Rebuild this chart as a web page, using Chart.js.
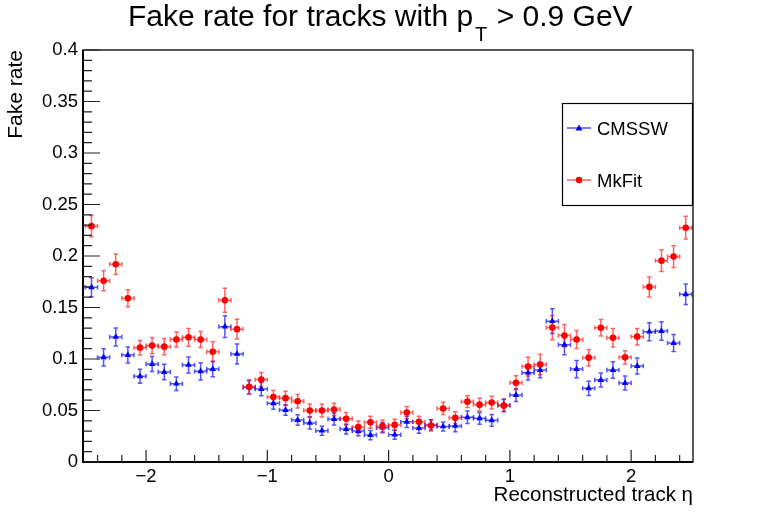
<!DOCTYPE html>
<html><head><meta charset="utf-8">
<script src="https://cdn.jsdelivr.net/npm/chart.js@4.4.1/dist/chart.umd.min.js"></script>
<style>html,body{margin:0;padding:0;background:#fff}#wrap{width:772px;height:515px;position:relative}</style>
</head><body><div id="wrap"><canvas id="c"></canvas></div>
<script>
// ---------- data ----------
const etaBins = [-2.45,-2.35,-2.25,-2.15,-2.05,-1.95,-1.85,-1.75,-1.65,-1.55,-1.45,-1.35,-1.25,-1.15,-1.05,
  -0.95,-0.85,-0.75,-0.65,-0.55,-0.45,-0.35,-0.25,-0.15,-0.05,0.05,0.15,0.25,0.35,0.45,0.55,0.65,0.75,0.85,0.95,
  1.05,1.15,1.25,1.35,1.45,1.55,1.65,1.75,1.85,1.95,2.05,2.15,2.25,2.35,2.45];
const binHalfWidth = 0.05;
const mkfitRate = [0.229,0.176,0.192,0.159,0.111,0.113,0.112,0.119,0.121,0.119,0.107,0.157,0.129,0.073,0.080,
  0.063,0.062,0.059,0.050,0.050,0.051,0.042,0.034,0.0385,0.035,0.036,0.048,0.039,0.0355,0.052,0.043,0.0586,0.0557,0.0578,0.0547,
  0.077,0.0926,0.0946,0.1305,0.1227,0.119,0.1013,0.1304,0.1207,0.1016,0.1217,0.170,0.1955,0.1994,0.2275];
const mkfitErr = [0.0102,0.0097,0.0100,0.0083,0.0070,0.0078,0.0078,0.0073,0.0087,0.0078,0.0097,0.0117,0.0097,0.0068,0.0068,
  0.0063,0.0068,0.0065,0.0063,0.0063,0.0060,0.0060,0.0058,0.0058,0.0057,0.0055,0.0060,0.0055,0.0055,0.0060,0.0057,0.0058,0.0062,0.0060,0.0060,
  0.0068,0.0090,0.0100,0.0117,0.0107,0.0087,0.0080,0.0080,0.0090,0.0065,0.0080,0.0097,0.0105,0.0105,0.0110];
const cmsswRate = [0.1696,0.1016,0.1214,0.1039,0.0832,0.0951,0.0874,0.076,0.0942,0.088,0.0903,0.1314,0.1049,0.0724,0.0708,
  0.057,0.0505,0.0408,0.0379,0.0304,0.0417,0.032,0.0301,0.0262,0.0333,0.0265,0.039,0.0329,0.036,0.0345,0.035,0.0434,0.0424,0.0405,0.0552,
  0.065,0.0867,0.0893,0.1367,0.1138,0.0902,0.0715,0.0796,0.0893,0.0767,0.0932,0.1265,0.1272,0.1155,0.1628];
const cmsswErr = [0.0092,0.0083,0.0087,0.0078,0.0068,0.0073,0.0076,0.0065,0.0078,0.0084,0.0076,0.0105,0.0097,0.0065,0.0065,
  0.0057,0.0050,0.0050,0.0058,0.0044,0.0057,0.0047,0.0045,0.0045,0.0050,0.0045,0.0055,0.0049,0.0050,0.0044,0.0057,0.0060,0.0057,0.0057,0.0060,
  0.0062,0.0071,0.0076,0.0120,0.0097,0.0083,0.0070,0.0068,0.0080,0.0068,0.0078,0.0087,0.0090,0.0083,0.0100];
const xTickValues = [-2,-1,0,1,2];
const xTickLabels = ['\u22122','\u22121','0','1','2'];
const yTickValues = [0,0.05,0.1,0.15,0.2,0.25,0.3,0.35,0.4];
const yTickLabels = ['0','0.05','0.1','0.15','0.2','0.25','0.3','0.35','0.4'];
const seriesNames = ['CMSSW','MkFit'];
const titleParts = ['Fake rate for tracks with p','T',' > 0.9 GeV'];
const xTitle = 'Reconstructed track \u03B7';
const yTitle = 'Fake rate';

// ---------- style ----------
const FONT = '"Liberation Sans", Arial, Helvetica, sans-serif';
const RED = '#ff0000', BLUE = '#0000ff';
const RED_BAR = 'rgba(255,0,0,0.62)', BLUE_BAR = 'rgba(0,0,255,0.68)';

const pts = (vals) => etaBins.map((e,i)=>({x:e, y:vals[i]}));

const errorBars = {
  id:'errorBars',
  beforeDatasetsDraw(chart){
    const {ctx, scales:{x,y}} = chart;
    ctx.save();
    const ca = chart.chartArea;
    ctx.beginPath(); ctx.rect(ca.left, ca.top, ca.right-ca.left, ca.bottom-ca.top); ctx.clip();
    [1,0].forEach(di=>{
      const ds = chart.data.datasets[di];
      ctx.strokeStyle = ds.barColor; ctx.lineWidth = 1.5;
      ds.data.forEach((p,i)=>{
        const px = x.getPixelForValue(p.x), py = y.getPixelForValue(p.y);
        const x0 = x.getPixelForValue(p.x-binHalfWidth), x1 = x.getPixelForValue(p.x+binHalfWidth);
        const y0 = y.getPixelForValue(p.y-ds.err[i]), y1 = y.getPixelForValue(p.y+ds.err[i]);
        const c = 2.2;
        ctx.beginPath();
        ctx.moveTo(x0,py); ctx.lineTo(x1,py);
        ctx.moveTo(x0,py-c); ctx.lineTo(x0,py+c);
        ctx.moveTo(x1,py-c); ctx.lineTo(x1,py+c);
        ctx.moveTo(px,y0); ctx.lineTo(px,y1);
        ctx.moveTo(px-c,y0); ctx.lineTo(px+c,y0);
        ctx.moveTo(px-c,y1); ctx.lineTo(px+c,y1);
        ctx.stroke();
      });
    });
    ctx.restore();
  }
};

const decorations = {
  id:'decorations',
  afterDraw(chart){
    const {ctx, scales:{x,y}} = chart;
    const ca = chart.chartArea;
    ctx.save();
    // frame
    ctx.strokeStyle = '#000'; ctx.lineWidth = 1.3;
    ctx.strokeRect(ca.left, ca.top, ca.right-ca.left, ca.bottom-ca.top);
    ctx.lineWidth = 2;
    ctx.beginPath(); ctx.moveTo(ca.left, ca.top); ctx.lineTo(ca.left, ca.bottom); ctx.lineTo(ca.right, ca.bottom); ctx.stroke();
    // ticks
    ctx.strokeStyle = '#222'; ctx.lineWidth = 1.2;
    ctx.beginPath();
    for (let k=0;k<yTickValues.length;k++){
      const v = yTickValues[k], py = y.getPixelForValue(v);
      ctx.moveTo(ca.left, py); ctx.lineTo(ca.left+17, py);
      if (k<yTickValues.length-1){
        const step = (yTickValues[k+1]-v)/5;
        for (let m=1;m<5;m++){ const pm = y.getPixelForValue(v+m*step); ctx.moveTo(ca.left, pm); ctx.lineTo(ca.left+9, pm); }
      }
    }
    const xs = (xTickValues[1]-xTickValues[0])/5;
    for (let k=0;k<xTickValues.length;k++){
      const v = xTickValues[k], px = x.getPixelForValue(v);
      ctx.moveTo(px, ca.bottom); ctx.lineTo(px, ca.bottom-12);
    }
    for (let v=xTickValues[0]-xs*5; v<=xTickValues[xTickValues.length-1]+xs*5+1e-9; v+=xs){
      const r = Math.round(v/xs);
      if (r%5===0) continue;
      if (v<x.min || v>x.max) continue;
      const px = x.getPixelForValue(v);
      ctx.moveTo(px, ca.bottom); ctx.lineTo(px, ca.bottom-7);
    }
    ctx.stroke();

    // title
    ctx.fillStyle = '#000'; ctx.textBaseline = 'alphabetic'; ctx.textAlign = 'left';
    ctx.font = '30px '+FONT;
    let tx = 128;
    ctx.fillText(titleParts[0], tx, 26);
    tx += ctx.measureText(titleParts[0]).width + 2;
    ctx.font = '20px '+FONT;
    ctx.fillText(titleParts[1], tx, 41);
    tx += ctx.measureText(titleParts[1]).width + 1;
    ctx.font = '30px '+FONT;
    ctx.fillText(titleParts[2], tx, 26);

    // axis titles
    ctx.font = '20.5px '+FONT;
    ctx.textAlign = 'right';
    ctx.fillText(xTitle, ca.right, 501);
    ctx.save();
    ctx.translate(22, ca.top);
    ctx.rotate(-Math.PI/2);
    ctx.textAlign = 'right';
    ctx.font = '21px '+FONT;
    ctx.fillText(yTitle, 0, 0);
    ctx.restore();

    // legend
    const L = {l:562, t:103, r:ca.right, b:206};
    ctx.fillStyle = '#fff';
    ctx.fillRect(L.l, L.t, L.r-L.l, L.b-L.t);
    ctx.strokeStyle = '#000'; ctx.lineWidth = 1.2;
    ctx.strokeRect(L.l+0.5, L.t+0.5, L.r-L.l-1, L.b-L.t-1);
    const entries = [
      {name:seriesNames[0], y:128, line:BLUE_BAR, col:BLUE, shape:'tri'},
      {name:seriesNames[1], y:180, line:RED_BAR, col:RED, shape:'circ'}];
    entries.forEach(e=>{
      ctx.strokeStyle = e.line; ctx.lineWidth = 1.5;
      ctx.beginPath(); ctx.moveTo(567, e.y); ctx.lineTo(591, e.y); ctx.stroke();
      ctx.fillStyle = e.col;
      ctx.beginPath();
      if (e.shape==='tri'){ ctx.moveTo(579, e.y-3.5); ctx.lineTo(582.5, e.y+2.5); ctx.lineTo(575.5, e.y+2.5); ctx.closePath(); }
      else { ctx.arc(579, e.y, 3.2, 0, Math.PI*2); }
      ctx.fill();
      ctx.fillStyle = '#000'; ctx.textAlign='left'; ctx.textBaseline='alphabetic';
      ctx.font = '18.5px '+FONT;
      ctx.fillText(e.name, 597, e.y+7);
    });
    ctx.restore();
  }
};

new Chart(document.getElementById('c'), {
  type:'scatter',
  data:{ datasets:[
    {label:seriesNames[1], data:pts(mkfitRate), err:mkfitErr, barColor:RED_BAR,
     pointStyle:'circle', pointRadius:3.3, pointBackgroundColor:RED, pointBorderColor:RED, pointBorderWidth:0, showLine:false},
    {label:seriesNames[0], data:pts(cmsswRate), err:cmsswErr, barColor:BLUE_BAR,
     pointStyle:'triangle', pointRadius:3.8, pointBackgroundColor:BLUE, pointBorderColor:BLUE, pointBorderWidth:0, showLine:false}
  ]},
  options:{
    responsive:true, maintainAspectRatio:false, animation:false,
    layout:{padding:{left:0, top:50, right:79, bottom:0}},
    plugins:{legend:{display:false}, tooltip:{enabled:false}, title:{display:false}},
    scales:{
      x:{type:'linear', min:-2.52, max:2.51, position:'bottom',
        grid:{display:false, drawTicks:false}, border:{display:false},
        afterBuildTicks:(s)=>{ s.ticks = xTickValues.map(v=>({value:v})); },
        afterFit:(s)=>{ s.height = 53; s.paddingLeft=0; s.paddingRight=0; },
        ticks:{padding:4, color:'#000', maxRotation:0, autoSkip:false,
          font:{family:FONT, size:18.5}, callback:(v,i)=>xTickLabels[i]}},
      y:{type:'linear', min:0, max:0.4,
        grid:{display:false, drawTicks:false}, border:{display:false},
        afterBuildTicks:(s)=>{ s.ticks = yTickValues.map(v=>({value:v})); },
        afterFit:(s)=>{ s.width = 83; s.paddingTop=0; s.paddingBottom=0; },
        ticks:{padding:5, color:'#000', autoSkip:false,
          font:{family:FONT, size:18.5}, callback:(v,i)=>yTickLabels[i]}}
    }
  },
  plugins:[errorBars, decorations]
});
</script></body></html>
